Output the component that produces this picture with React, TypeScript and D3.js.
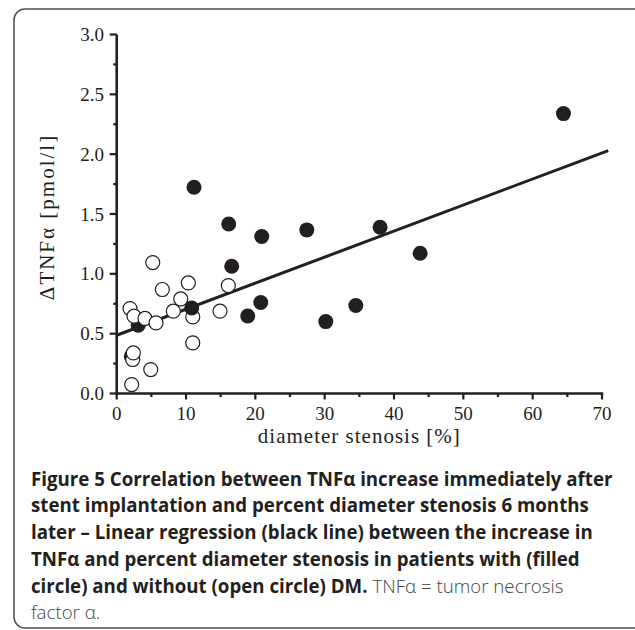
import React from "react";
import * as d3 from "d3";

// ---- data ----
const stenosis = [2.1, 3.1, 11.15, 16.16, 20.92, 27.42, 37.99, 43.77, 16.59, 20.78, 18.9, 30.16, 34.49, 64.44,
  5.2, 6.58, 10.33, 9.24, 1.92, 2.5, 4.08, 5.67, 8.17, 10.97, 14.9, 16.1, 10.97, 2.31, 2.4, 4.91, 2.16, 10.82];
const deltaTnf = [0.31, 0.571, 1.724, 1.417, 1.312, 1.367, 1.389, 1.172, 1.063, 0.76, 0.648, 0.601, 0.735, 2.339,
  1.094, 0.869, 0.924, 0.79, 0.71, 0.646, 0.627, 0.59, 0.688, 0.64, 0.688, 0.902, 0.423, 0.284, 0.339, 0.2, 0.075, 0.715];
const diabetic = [true, true, true, true, true, true, true, true, true, true, true, true, true, true,
  false, false, false, false, false, false, false, false, false, false, false, false, false, false, false, false, false, true];

const regressionIntercept = 0.487;
const regressionSlope = 0.02176;
const regressionRange = [0, 70.9];

const xTicks = [0, 10, 20, 30, 40, 50, 60, 70];
const xMinorTicks = [5, 15, 25, 35, 45, 55, 65];
const yTicks = [0, 0.5, 1.0, 1.5, 2.0, 2.5, 3.0];
const yMinorTicks = [0.25, 0.75, 1.25, 1.75, 2.25, 2.75];

const xTitle = "diameter stenosis [%]";
const yTitle = "\u0394TNF\u03b1 [pmol/l]";

const captionLines: [string, string][] = [
  ["Figure 5 Correlation between TNF\u03b1 increase immediately after", ""],
  ["stent implantation and percent diameter stenosis 6 months", ""],
  ["later \u2013 Linear regression (black line) between the increase in", ""],
  ["TNF\u03b1 and percent diameter stenosis in patients with (filled", ""],
  ["circle) and without (open circle) DM.", " TNF\u03b1 = tumor necrosis"],
  ["", "factor \u03b1."],
];

const INK = "#231f20";

export default function App() {
  const left = 116.7, right = 602, top = 34.5, bottom = 393.5;
  const x = d3.scaleLinear().domain([0, 70]).range([left, right]);
  const y = d3.scaleLinear().domain([0, 3]).range([bottom, top]);
  const line = d3.line<number>().x((d) => x(d)).y((d) => y(regressionIntercept + regressionSlope * d));
  const serif = "'Liberation Serif', 'Times New Roman', serif";
  const sans = "'Open Sans', sans-serif";

  return (
    <svg width={635} height={630} style={{ position: "absolute", left: 0, top: 0, background: "#fff" }}>
      <rect x={14} y={9} width={640} height={619} rx={11} ry={11} fill="none" stroke="#4d4d4d" strokeWidth={1.5} />

      {/* regression line */}
      <path d={line(regressionRange) || ""} stroke={INK} strokeWidth={3} fill="none" />

      {/* points */}
      {stenosis.map((s, i) => (
        <circle key={i} cx={x(s)} cy={y(deltaTnf[i])} r={diabetic[i] ? 7.5 : 7}
          fill={diabetic[i] ? INK : "#fff"} stroke={INK} strokeWidth={diabetic[i] ? 0 : 1.2} />
      ))}

      {/* axes */}
      <line x1={left} x2={left} y1={top} y2={bottom + 1.3} stroke={INK} strokeWidth={2.6} />
      <line x1={left - 1.3} x2={right + 1.3} y1={bottom} y2={bottom} stroke={INK} strokeWidth={2.6} />
      {yTicks.map((t) => (
        <g key={"y" + t}>
          <line x1={left - 7} x2={left} y1={y(t)} y2={y(t)} stroke={INK} strokeWidth={2.2} />
          <text x={104} y={y(t)} dy="0.35em" textAnchor="end" fontFamily={serif} fontSize={19} fill={INK}>
            {t.toFixed(1)}
          </text>
        </g>
      ))}
      {yMinorTicks.map((t) => (
        <line key={"ym" + t} x1={left - 3.5} x2={left} y1={y(t)} y2={y(t)} stroke={INK} strokeWidth={2.2} />
      ))}
      {xTicks.map((t) => (
        <g key={"x" + t}>
          <line x1={x(t)} x2={x(t)} y1={bottom} y2={bottom + 6} stroke={INK} strokeWidth={2.2} />
          <text x={x(t)} y={420} textAnchor="middle" fontFamily={serif} fontSize={19} fill={INK}>
            {t}
          </text>
        </g>
      ))}
      {xMinorTicks.map((t) => (
        <line key={"xm" + t} x1={x(t)} x2={x(t)} y1={bottom} y2={bottom + 3.5} stroke={INK} strokeWidth={2.2} />
      ))}

      <text x={(left + right) / 2} y={443} textAnchor="middle" fontFamily={serif} fontSize={21}
        letterSpacing={1} fill={INK}>
        {xTitle}
      </text>
      <text transform={`translate(54,217) rotate(-90)`} textAnchor="middle"
        fontFamily={serif} fontSize={21} letterSpacing={2} fill={INK}>
        {yTitle}
      </text>

      {/* caption */}
      {captionLines.map(([b, r], i) => (
        <text key={"c" + i} x={31} y={485.7 + i * 26.7} fontFamily={sans} fontSize={18.7} fill={INK}>
          {b && <tspan fontWeight={700}>{b}</tspan>}
          {r && <tspan fontWeight={300} fill="#444">{r}</tspan>}
        </text>
      ))}
    </svg>
  );
}
